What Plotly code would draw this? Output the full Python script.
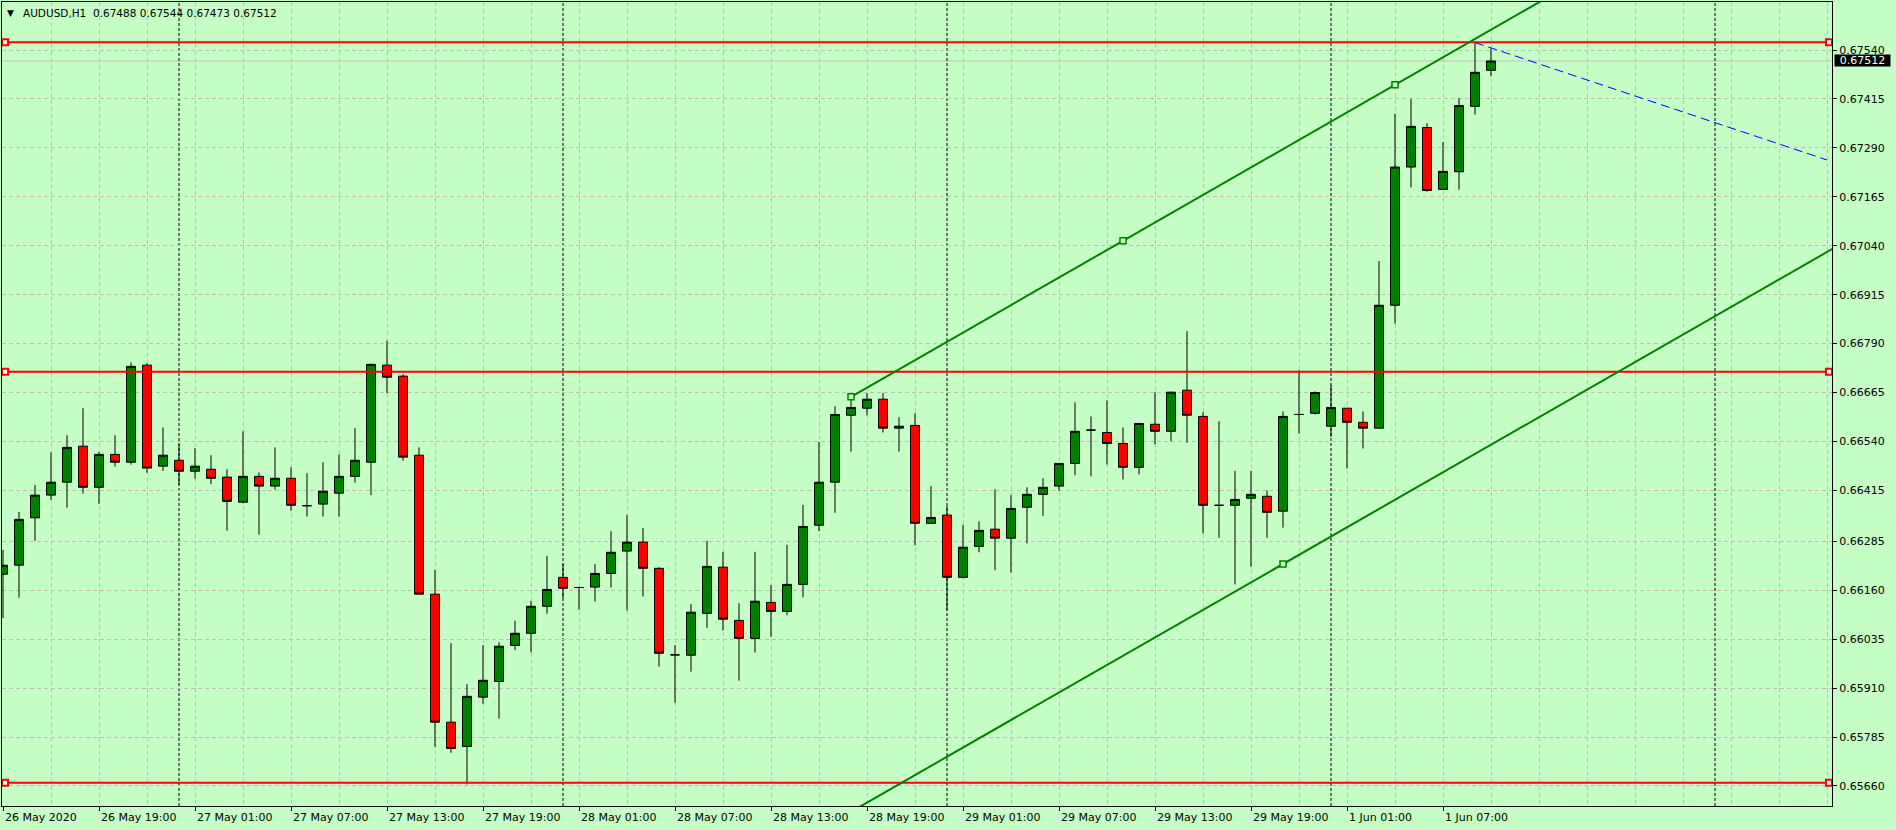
import plotly.graph_objects as go

# AUDUSD H1, one bar per hour, bar 0 = 26 May 2020 13:00 (no weekend gap, like MT4)
opens = [
    0.66201, 0.66224, 0.66345, 0.66403, 0.66436, 0.66528, 0.66423, 0.66507, 0.66487, 0.66735,
    0.66477, 0.66492, 0.66464, 0.66469, 0.66449, 0.66385, 0.66451, 0.66426, 0.66446, 0.66376,
    0.66380, 0.66408, 0.66451, 0.66487, 0.66735, 0.66707, 0.66505, 0.66150, 0.65823, 0.65761,
    0.65887, 0.65927, 0.66019, 0.66050, 0.66119, 0.66193, 0.66167, 0.66168, 0.66203, 0.66260,
    0.66283, 0.66216, 0.65995, 0.65994, 0.66101, 0.66219, 0.66083, 0.66037, 0.66129, 0.66106,
    0.66175, 0.66326, 0.66436, 0.66607, 0.66625, 0.66648, 0.66574, 0.66581, 0.66331, 0.66352,
    0.66193, 0.66272, 0.66316, 0.66293, 0.66372, 0.66405, 0.66426, 0.66484, 0.66569, 0.66563,
    0.66535, 0.66474, 0.66584, 0.66566, 0.66671, 0.66604, 0.66377, 0.66377, 0.66395, 0.66400,
    0.66362, 0.66609, 0.66612, 0.66579, 0.66625, 0.66589, 0.66574, 0.66888, 0.67241, 0.67342,
    0.67184, 0.67229, 0.67396, 0.67488,
]
highs = [
    0.66263, 0.66360, 0.66429, 0.66512, 0.66556, 0.66625, 0.66513, 0.66556, 0.66742, 0.66740,
    0.66576, 0.66533, 0.66523, 0.66505, 0.66469, 0.66566, 0.66461, 0.66525, 0.66474, 0.66459,
    0.66487, 0.66507, 0.66574, 0.66739, 0.66797, 0.66712, 0.66525, 0.66212, 0.66025, 0.65920,
    0.66020, 0.66027, 0.66082, 0.66133, 0.66248, 0.66227, 0.66169, 0.66227, 0.66311, 0.66352,
    0.66319, 0.66219, 0.66020, 0.66125, 0.66286, 0.66258, 0.66127, 0.66258, 0.66173, 0.66276,
    0.66378, 0.66539, 0.66630, 0.66654, 0.66664, 0.66664, 0.66602, 0.66612, 0.66426, 0.66375,
    0.66327, 0.66336, 0.66418, 0.66403, 0.66423, 0.66446, 0.66484, 0.66640, 0.66604, 0.66645,
    0.66576, 0.66586, 0.66666, 0.66667, 0.66822, 0.66615, 0.66592, 0.66465, 0.66465, 0.66415,
    0.66617, 0.66722, 0.66668, 0.66684, 0.66625, 0.66617, 0.67001, 0.67377, 0.67415, 0.67353,
    0.67305, 0.67417, 0.67559, 0.67544,
]
lows = [
    0.66089, 0.66141, 0.66286, 0.66391, 0.66371, 0.66407, 0.66381, 0.66476, 0.66481, 0.66460,
    0.66465, 0.66429, 0.66445, 0.66431, 0.66312, 0.66382, 0.66302, 0.66417, 0.66363, 0.66348,
    0.66348, 0.66348, 0.66435, 0.66403, 0.66663, 0.66491, 0.66150, 0.65760, 0.65745, 0.65664,
    0.65870, 0.65832, 0.66007, 0.66001, 0.66100, 0.66140, 0.66110, 0.66131, 0.66167, 0.66108,
    0.66144, 0.65965, 0.65873, 0.65952, 0.66064, 0.66057, 0.65929, 0.66001, 0.66041, 0.66096,
    0.66142, 0.66311, 0.66358, 0.66514, 0.66607, 0.66563, 0.66514, 0.66275, 0.66331, 0.66109,
    0.66193, 0.66257, 0.66211, 0.66205, 0.66280, 0.66350, 0.66414, 0.66454, 0.66451, 0.66481,
    0.66443, 0.66456, 0.66533, 0.66540, 0.66537, 0.66305, 0.66294, 0.66175, 0.66220, 0.66294,
    0.66320, 0.66560, 0.66609, 0.66552, 0.66471, 0.66522, 0.66574, 0.66841, 0.67189, 0.67178,
    0.67184, 0.67183, 0.67375, 0.67473,
]
closes = [
    0.66224, 0.66341, 0.66403, 0.66436, 0.66525, 0.66423, 0.66507, 0.66487, 0.66732, 0.66472,
    0.66505, 0.66464, 0.66477, 0.66446, 0.66387, 0.66451, 0.66426, 0.66446, 0.66377, 0.66376,
    0.66413, 0.66451, 0.66492, 0.66737, 0.66704, 0.66500, 0.66150, 0.65823, 0.65756, 0.65889,
    0.65930, 0.66017, 0.66050, 0.66119, 0.66162, 0.66165, 0.66167, 0.66203, 0.66257, 0.66283,
    0.66216, 0.65999, 0.65995, 0.66104, 0.66221, 0.66086, 0.66037, 0.66132, 0.66106, 0.66175,
    0.66323, 0.66436, 0.66609, 0.66627, 0.66648, 0.66574, 0.66579, 0.66331, 0.66346, 0.66193,
    0.66270, 0.66313, 0.66293, 0.66369, 0.66405, 0.66423, 0.66484, 0.66566, 0.66569, 0.66535,
    0.66474, 0.66586, 0.66566, 0.66666, 0.66607, 0.66377, 0.66377, 0.66392, 0.66405, 0.66359,
    0.66604, 0.66609, 0.66665, 0.66627, 0.66589, 0.66574, 0.66888, 0.67241, 0.67345, 0.67181,
    0.67230, 0.67398, 0.67483, 0.67512,
]

time_label_bars = [0, 6, 12, 18, 24, 30, 36, 42, 48, 54, 60, 66, 72, 78, 84, 90]
time_labels = [
    "26 May 2020", "26 May 19:00", "27 May 01:00", "27 May 07:00", "27 May 13:00",
    "27 May 19:00", "28 May 01:00", "28 May 07:00", "28 May 13:00", "28 May 19:00",
    "29 May 01:00", "29 May 07:00", "29 May 13:00", "29 May 19:00", "1 Jun 01:00", "1 Jun 07:00",
]
price_labels = [
    "0.67540", "0.67415", "0.67290", "0.67165", "0.67040", "0.66915", "0.66790", "0.66665",
    "0.66540", "0.66415", "0.66285", "0.66160", "0.66035", "0.65910", "0.65785", "0.65660",
]
day_separator_bars = [11, 35, 59, 83, 107]
level_prices = [0.67560, 0.66718, 0.65668]
channel_bars = [53, 87]
channel_prices = [0.66654, 0.67451]
channel_third_bar = 80
channel_third_price = 0.66227
blue_bars = [92, 114]
blue_prices = [0.67559, 0.67259]
bid_price = 0.67512
header_text = "AUDUSD,H1  0.67488 0.67544 0.67473 0.67512"

BG = "#C6FFC6"
GRID = "#C2BCC2"
GREEN = "#008000"
X_LO, X_HI = -0.0625, 114.3125
Y_LO, Y_HI = 0.656089, 0.676626
FONT = "DejaVu Sans"

fig = go.Figure()

fig.add_trace(go.Candlestick(
    x=list(range(len(opens))), open=opens, high=highs, low=lows, close=closes,
    increasing={"line": {"color": "black", "width": 1}, "fillcolor": GREEN},
    decreasing={"line": {"color": "black", "width": 1}, "fillcolor": "#FF0000"},
    whiskerwidth=0, hoverinfo="skip", showlegend=False,
))

# horizontal levels with their anchor squares at both ends
for lvl in level_prices:
    fig.add_trace(go.Scatter(
        x=[X_LO, X_HI], y=[lvl, lvl], mode="lines",
        line={"color": "#FF0000", "width": 2}, hoverinfo="skip", showlegend=False,
    ))
    fig.add_trace(go.Scatter(
        x=[X_LO + 0.19, X_HI - 0.19], y=[lvl, lvl], mode="markers", cliponaxis=False,
        marker={"symbol": "square", "size": 6, "color": "white",
                "line": {"color": "#FF0000", "width": 2}},
        hoverinfo="skip", showlegend=False,
    ))

# equidistant channel (rays to the right)
slope = (channel_prices[1] - channel_prices[0]) / (channel_bars[1] - channel_bars[0])
x0 = channel_bars[0]
up_end = channel_prices[0] + slope * (X_HI + 5 - x0)
low_start = channel_third_price + slope * (x0 - channel_third_bar)
low_end = channel_third_price + slope * (X_HI + 5 - channel_third_bar)
fig.add_trace(go.Scatter(x=[x0, X_HI + 5], y=[channel_prices[0], up_end], mode="lines",
                         line={"color": GREEN, "width": 2}, hoverinfo="skip", showlegend=False))
fig.add_trace(go.Scatter(x=[x0, X_HI + 5], y=[low_start, low_end], mode="lines",
                         line={"color": GREEN, "width": 2}, hoverinfo="skip", showlegend=False))
mid_bar = (channel_bars[0] + channel_bars[1]) / 2
fig.add_trace(go.Scatter(
    x=[channel_bars[0], mid_bar, channel_bars[1], channel_third_bar],
    y=[channel_prices[0], (channel_prices[0] + channel_prices[1]) / 2, channel_prices[1],
       channel_third_price],
    mode="markers",
    marker={"symbol": "square", "size": 6, "color": BG, "line": {"color": GREEN, "width": 1.5}},
    hoverinfo="skip", showlegend=False,
))

# blue dashed trend line from the high
fig.add_trace(go.Scatter(x=blue_bars, y=blue_prices, mode="lines",
                         line={"color": "#0000FF", "width": 1, "dash": "9px,5px"},
                         hoverinfo="skip", showlegend=False))

shapes = [
    {"type": "line", "xref": "paper", "x0": 0, "x1": 1, "yref": "y", "y0": bid_price,
     "y1": bid_price, "line": {"color": "#C0C0C0", "width": 1}, "layer": "below"},
]
for d in day_separator_bars:
    shapes.append({"type": "line", "xref": "x", "x0": d, "x1": d, "yref": "paper", "y0": 0,
                   "y1": 1, "line": {"color": "black", "width": 1, "dash": "3px,2px"},
                   "layer": "below"})

annotations = [
    {"text": "▼", "xref": "paper", "yref": "paper", "x": 0.0049, "y": 1, "xanchor": "center",
     "yanchor": "top", "yshift": -4, "showarrow": False, "font": {"size": 9, "color": "black"}},
    {"text": header_text, "xref": "paper", "yref": "paper", "x": 0.0104, "y": 1,
     "xanchor": "left", "yanchor": "top", "yshift": -3, "showarrow": False,
     "font": {"size": 10.5, "color": "black"}},
    {"text": f"{bid_price:.5f}", "xref": "paper", "yref": "y", "x": 1, "y": bid_price,
     "xanchor": "left", "yanchor": "middle", "xshift": 2, "showarrow": False,
     "bgcolor": "black", "borderpad": 0, "width": 55, "height": 11,
     "font": {"size": 11, "color": "white"}},
]
for b, lab in zip(time_label_bars, time_labels):
    annotations.append({"text": lab, "xref": "x", "yref": "paper", "x": b, "y": 0,
                        "xanchor": "left", "yanchor": "top", "yshift": -3, "showarrow": False,
                        "font": {"size": 11, "color": "black"}})

fig.update_layout(
    width=1896, height=830,
    margin={"l": 2, "r": 64, "t": 2, "b": 24},
    paper_bgcolor=BG, plot_bgcolor=BG,
    font={"family": FONT, "size": 11, "color": "black"},
    boxgap=0.44, boxgroupgap=0,
    showlegend=False,
    shapes=shapes, annotations=annotations,
    xaxis={
        "range": [X_LO, X_HI], "rangeslider": {"visible": False},
        "tickmode": "array", "tickvals": time_label_bars, "showticklabels": False,
        "ticks": "outside", "ticklen": 4, "tickcolor": "black",
        "showgrid": True, "gridcolor": GRID, "griddash": "4px,3px", "gridwidth": 1,
        "minor": {"tickvals": list(range(0, 115, 3)), "showgrid": True, "gridcolor": GRID,
                  "griddash": "4px,3px", "ticks": ""},
        "showline": True, "linecolor": "black", "linewidth": 1, "mirror": True,
        "zeroline": False, "fixedrange": True,
    },
    yaxis={
        "range": [Y_LO, Y_HI], "side": "right",
        "tickmode": "array", "tickvals": [float(p) for p in price_labels], "ticktext": price_labels,
        "ticks": "outside", "ticklen": 4, "tickcolor": "black",
        "tickfont": {"family": FONT, "size": 11, "color": "black"},
        "showgrid": True, "gridcolor": GRID, "griddash": "4px,3px", "gridwidth": 1,
        "showline": True, "linecolor": "black", "linewidth": 1, "mirror": True,
        "zeroline": False, "fixedrange": True,
    },
)

# the page's default 8px body margin would shift the chart
fig.write_html("out.html", post_script="document.body.style.margin = '0';",
               config={"displayModeBar": False})
